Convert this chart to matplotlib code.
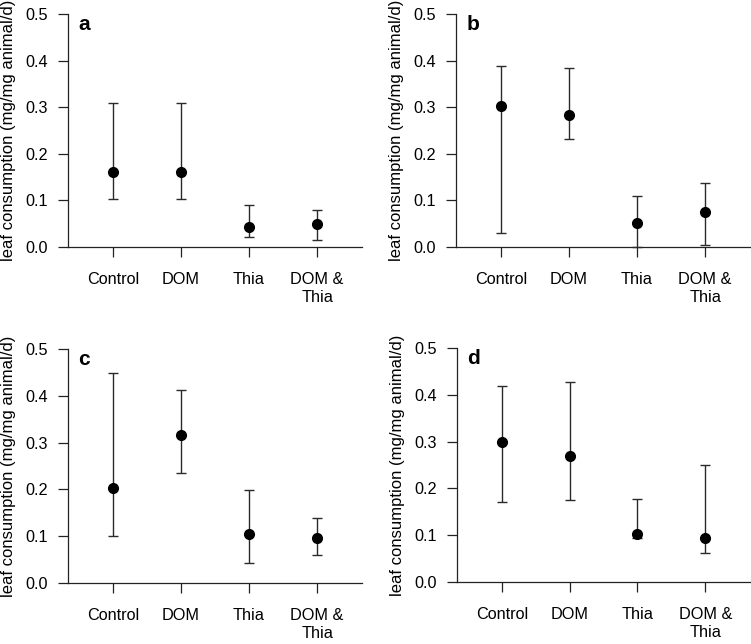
import matplotlib
matplotlib.use("Agg")
import matplotlib.pyplot as plt

plt.rcParams['font.family'] = ['Liberation Sans', 'DejaVu Sans']

treatments = ["Control", "DOM", "Thia", "DOM &\nThia"]
panel_letters = ["a", "b", "c", "d"]

# mean, lower and upper bound per panel
mean_a = [0.161, 0.161, 0.043, 0.050]
low_a = [0.104, 0.104, 0.021, 0.015]
high_a = [0.308, 0.309, 0.091, 0.079]

mean_b = [0.302, 0.284, 0.051, 0.075]
low_b = [0.029, 0.231, 0.001, 0.005]
high_b = [0.389, 0.384, 0.109, 0.138]

mean_c = [0.204, 0.317, 0.105, 0.096]
low_c = [0.100, 0.236, 0.043, 0.060]
high_c = [0.449, 0.413, 0.199, 0.138]

mean_d = [0.299, 0.269, 0.103, 0.094]
low_d = [0.172, 0.176, 0.093, 0.062]
high_d = [0.418, 0.427, 0.177, 0.250]

y_ticks = [0.0, 0.1, 0.2, 0.3, 0.4, 0.5]
y_label = "leaf consumption (mg/mg animal/d)"

panels = [
    (mean_a, low_a, high_a),
    (mean_b, low_b, high_b),
    (mean_c, low_c, high_c),
    (mean_d, low_d, high_d),
]

# axes rectangles in figure fractions [left, bottom, width, height]
W, H = 751, 644
rects = [
    [68 / W, 1 - 247 / H, 294 / W, 233 / H],
    [456 / W, 1 - 247 / H, 294 / W, 233 / H],
    [68 / W, 1 - 583 / H, 294 / W, 234 / H],
    [457 / W, 1 - 582 / H, 293 / W, 234 / H],
]

fig = plt.figure(figsize=(W / 100, H / 100), dpi=100)

for rect, letter, (mean, low, high) in zip(rects, panel_letters, panels):
    ax = fig.add_axes(rect)
    x = list(range(1, len(treatments) + 1))
    yerr = [[m - l for m, l in zip(mean, low)], [h - m for m, h in zip(mean, high)]]
    ax.errorbar(x, mean, yerr=yerr, fmt='o', color='black', ecolor='#2a2a2a',
                elinewidth=1.0, capsize=3.8, capthick=1.0, markersize=7,
                clip_on=False, zorder=3)

    ax.set_xlim(0.34, 4.66)
    ax.set_ylim(0, 0.5)
    ax.set_xticks(x)
    ax.set_xticklabels(treatments, fontsize=11.7, linespacing=1.25)
    ax.set_yticks(y_ticks)
    ax.set_yticklabels(["%.1f" % v for v in y_ticks], fontsize=11.7)
    ax.tick_params(axis='both', direction='out', length=7.2, width=0.9, color='#222222')
    ax.tick_params(axis='x', pad=10.5)
    ax.tick_params(axis='y', pad=7)

    for side in ['top', 'right']:
        ax.spines[side].set_visible(False)
    for side in ['left', 'bottom']:
        ax.spines[side].set_linewidth(0.9)
        ax.spines[side].set_color('#222222')

    ax.set_ylabel(y_label, fontsize=12)
    ax.yaxis.set_label_coords(-0.178, 0.5)

    ax.text(0.035, 0.93, letter, transform=ax.transAxes, fontsize=15,
            fontweight='bold', ha='left', va='baseline')

fig.savefig("out.png", dpi=100)
